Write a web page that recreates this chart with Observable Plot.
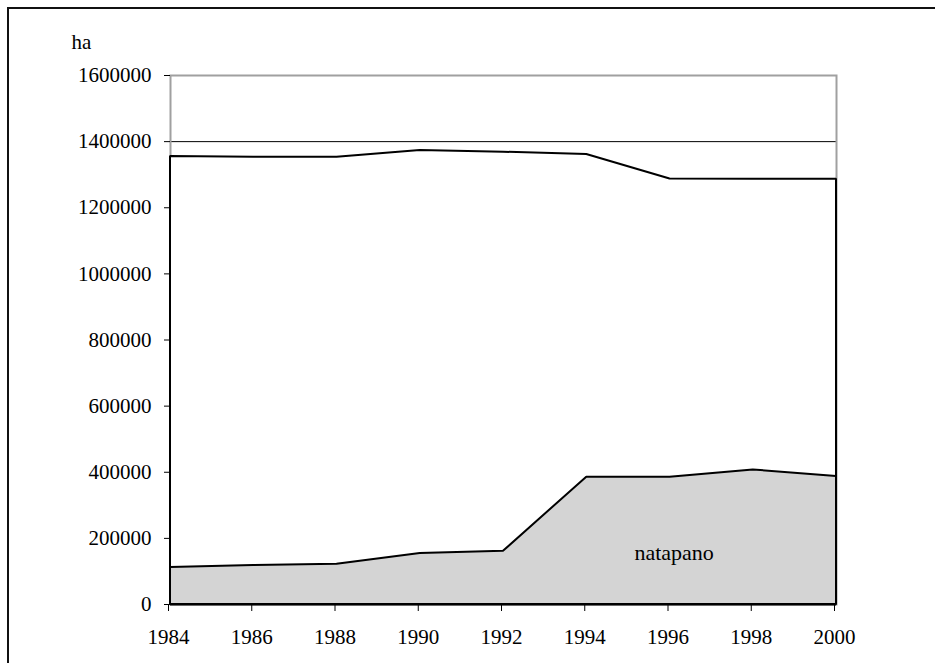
<!DOCTYPE html>
<html>
<head>
<meta charset="utf-8">
<script src="https://cdn.jsdelivr.net/npm/d3@7"></script>
<script src="https://cdn.jsdelivr.net/npm/@observablehq/plot@0.6"></script>
<style>
  html, body { margin: 0; padding: 0; background: #fff; }
  #wrap { position: relative; width: 935px; height: 663px; overflow: hidden; }
  #border { position: absolute; left: 7px; top: 7px; width: 940px; height: 700px;
            border-left: 2px solid #111; border-top: 2px solid #111; box-sizing: border-box; }
  svg { display: block; }
</style>
</head>
<body>
<div id="wrap"><div id="border"></div><div id="chart"></div></div>
<script>
const years = [1984, 1986, 1988, 1990, 1992, 1994, 1996, 1998, 2000];
const total = [1355000, 1353000, 1353000, 1373000, 1368000, 1361000, 1287000, 1286000, 1286000];
const natapano = [112000, 118000, 122000, 154000, 161000, 385000, 385000, 407000, 387000];
const yTicks = [0, 200000, 400000, 600000, 800000, 1000000, 1200000, 1400000, 1600000];
const xTicks = years;
const unitLabel = ["ha"];
const seriesLabel = [{x: 1996.1, y: 157000, text: "natapano"}];

const data = years.map((yr, i) => ({year: yr, total: total[i], natapano: natapano[i]}));

const font = "Liberation Serif, Times New Roman, serif";

const chart = Plot.plot({
  width: 935,
  height: 663,
  marginLeft: 170,
  marginRight: 99,
  marginTop: 75,
  marginBottom: 59,
  style: {fontFamily: font, fontSize: "21px", color: "#000", background: "transparent"},
  x: {domain: [1984, 2000]},
  y: {domain: [0, 1600000]},
  marks: [
    Plot.gridY(yTicks.filter(d => d > 0 && d < 1600000), {stroke: "#000", strokeOpacity: 1, strokeWidth: 1}),
    Plot.frame({stroke: "#a0a0a0", strokeWidth: 2}),
    Plot.areaY(data, {x: "year", y: "total", fill: "#fff", stroke: "#000", strokeWidth: 2, strokeLinejoin: "miter"}),
    Plot.areaY(data, {x: "year", y: "natapano", fill: "#d4d4d4", stroke: "#000", strokeWidth: 2, strokeLinejoin: "miter"}),
    Plot.axisY({ticks: yTicks, tickSize: 6, tickPadding: 13, tickFormat: d => String(d), label: null, fontSize: 21}),
    Plot.axisX({ticks: xTicks, tickSize: 7, tickPadding: 18, tickFormat: d => String(d), label: null, fontSize: 21, dx: -2}),
    Plot.ruleY([0], {stroke: "#000", strokeWidth: 2}),
    Plot.text(unitLabel, {text: d => d, frameAnchor: "top-left", textAnchor: "middle", lineAnchor: "middle", dx: -89, dy: -33, fontSize: 21}),
    Plot.text(seriesLabel, {x: "x", y: "y", text: "text", fontSize: 22})
  ]
});
document.getElementById("chart").appendChild(chart);
</script>
</body>
</html>
